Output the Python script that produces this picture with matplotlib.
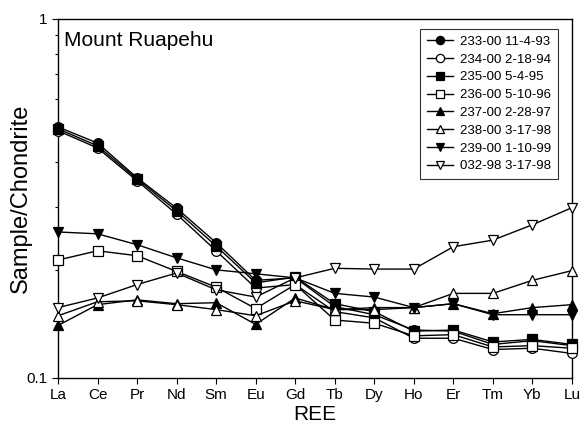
import matplotlib
matplotlib.use("Agg")
import matplotlib.pyplot as plt
from matplotlib.ticker import LogLocator, NullFormatter, FixedLocator, FixedFormatter

plt.rcParams['font.family'] = ['Liberation Sans', 'DejaVu Sans']

ree = ["La", "Ce", "Pr", "Nd", "Sm", "Eu", "Gd", "Tb", "Dy", "Ho", "Er", "Tm", "Yb", "Lu"]

s233 = [0.500, 0.451, 0.361, 0.297, 0.238, 0.187, 0.190, 0.158, 0.150, 0.136, 0.135, 0.124, 0.127, 0.123]
s234 = [0.488, 0.437, 0.354, 0.286, 0.226, 0.178, 0.182, 0.153, 0.147, 0.129, 0.129, 0.120, 0.121, 0.117]
s235 = [0.494, 0.443, 0.358, 0.292, 0.233, 0.184, 0.191, 0.161, 0.153, 0.135, 0.136, 0.126, 0.128, 0.124]
s236 = [0.213, 0.226, 0.219, 0.198, 0.179, 0.156, 0.182, 0.145, 0.142, 0.131, 0.132, 0.122, 0.123, 0.121]
s237 = [0.140, 0.160, 0.165, 0.161, 0.162, 0.141, 0.167, 0.155, 0.157, 0.157, 0.161, 0.151, 0.157, 0.160]
s238 = [0.149, 0.163, 0.164, 0.160, 0.155, 0.149, 0.164, 0.155, 0.155, 0.157, 0.172, 0.172, 0.187, 0.199]
s239 = [0.255, 0.252, 0.235, 0.216, 0.200, 0.195, 0.190, 0.172, 0.168, 0.157, 0.161, 0.150, 0.150, 0.150]
s032 = [0.157, 0.167, 0.182, 0.196, 0.176, 0.168, 0.190, 0.202, 0.201, 0.201, 0.232, 0.242, 0.267, 0.298]

labels = ["233-00 11-4-93", "234-00 2-18-94", "235-00 5-4-95", "236-00 5-10-96",
          "237-00 2-28-97", "238-00 3-17-98", "239-00 1-10-99", "032-98 3-17-98"]
series = [s233, s234, s235, s236, s237, s238, s239, s032]
markers = ["o", "o", "s", "s", "^", "^", "v", "v"]
filled = [True, False, True, False, True, False, True, False]

fig = plt.figure(figsize=(5.83, 4.29), dpi=100)
ax = fig.add_axes([0.0995, 0.119, 0.8815, 0.837])

x = list(range(len(ree)))
for vals, lab, m, f in zip(series, labels, markers, filled):
    ax.plot(x, vals, color="black", lw=1.0, marker=m, markersize=7 if m == "o" else 6.5,
            markerfacecolor="black" if f else "white", markeredgecolor="black",
            markeredgewidth=0.9, label=lab, clip_on=False, zorder=3)

ax.set_yscale("log")
ax.set_ylim(0.1, 1)
ax.set_xlim(0, 13)
ax.yaxis.set_major_locator(FixedLocator([0.1, 1]))
ax.yaxis.set_major_formatter(FixedFormatter(["0.1", "1"]))
ax.yaxis.set_minor_locator(LogLocator(base=10, subs=[2, 3, 4, 5, 6, 7, 8, 9]))
ax.yaxis.set_minor_formatter(NullFormatter())
ax.set_xticks(x)
ax.set_xticklabels(ree)
ax.tick_params(axis="both", which="major", labelsize=11, length=4, width=0.8, color="black")
ax.tick_params(axis="y", which="minor", length=2.5, width=0.8)
for sp in ax.spines.values():
    sp.set_linewidth(1.0)

ax.set_xlabel("REE", fontsize=15, labelpad=2)
ax.set_ylabel("Sample/Chondrite", fontsize=17)
ax.yaxis.set_label_coords(-0.05, 0.5)
ax.text(0.012, 0.965, "Mount Ruapehu", transform=ax.transAxes, fontsize=15,
        va="top", ha="left")

leg = ax.legend(loc="upper right", bbox_to_anchor=(0.985, 0.99), fontsize=9.5,
                frameon=True, fancybox=False, edgecolor="black", handlelength=2.0,
                handletextpad=0.5, borderpad=0.5, labelspacing=0.42, markerscale=0.85)
leg.get_frame().set_linewidth(0.8)
leg.set_zorder(5)

fig.savefig("out.png", dpi=100)
